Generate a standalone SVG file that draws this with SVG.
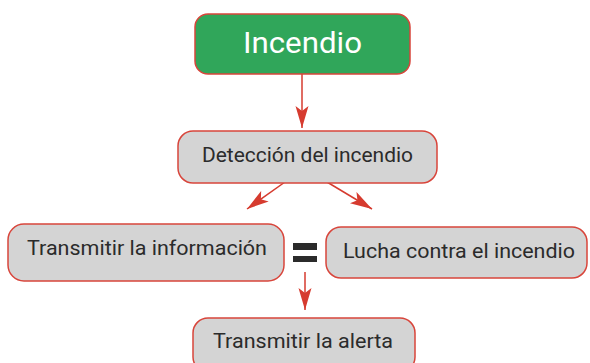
<svg xmlns="http://www.w3.org/2000/svg" width="590" height="363" viewBox="0 0 590 363">
<style>
.box{fill:#d4d4d4;stroke:#d8453b;stroke-width:1.5}
.main{fill:#30a65a;stroke:#d8453b;stroke-width:1.5}
.t{font-family:Roboto,"Liberation Sans",sans-serif;font-size:20.5px;font-weight:400;fill:#2b2b2b;text-anchor:middle}
.tm{font-family:Roboto,"Liberation Sans",sans-serif;font-size:30px;fill:#ffffff;text-anchor:middle}
.c{stroke:#d63b2f;stroke-width:1.5;fill:none}
</style>
<defs>
<marker id="ah" markerUnits="userSpaceOnUse" markerWidth="24" markerHeight="14" refX="22" refY="7" orient="auto">
<path d="M0,0.5 L22,7 L0,13.5 L5,7 Z" fill="#d63b2f"/>
</marker>
</defs>
<rect width="590" height="363" fill="#ffffff"/>
<g id="connectors">
<line class="c" x1="302" y1="74" x2="302" y2="128" marker-end="url(#ah)"/>
<line class="c" x1="285" y1="182" x2="247" y2="209" marker-end="url(#ah)"/>
<line class="c" x1="327" y1="182" x2="372" y2="209" marker-end="url(#ah)"/>
<line class="c" x1="305" y1="272" x2="305" y2="310" marker-end="url(#ah)"/>
</g>
<g id="node-incendio">
<rect class="main" x="195" y="14" width="215" height="60" rx="13"/>
<text class="tm" x="302.5" y="53" textLength="119" lengthAdjust="spacingAndGlyphs">Incendio</text>
</g>
<g id="node-deteccion">
<rect class="box" x="178" y="131" width="259" height="52" rx="15"/>
<text class="t" x="307.5" y="162" textLength="211" lengthAdjust="spacingAndGlyphs">Detección del incendio</text>
</g>
<g id="node-transmitir-info">
<rect class="box" x="8" y="224" width="276" height="57" rx="16"/>
<text class="t" x="147" y="255" textLength="240" lengthAdjust="spacingAndGlyphs">Transmitir la información</text>
</g>
<g id="equals">
<rect x="293" y="243" width="24" height="7" fill="#2b2b2b"/>
<rect x="293" y="256" width="24" height="6" fill="#2b2b2b"/>
</g>
<g id="node-lucha">
<rect class="box" x="326" y="227" width="261" height="51" rx="15"/>
<text class="t" x="459" y="258" textLength="232" lengthAdjust="spacingAndGlyphs">Lucha contra el incendio</text>
</g>
<g id="node-alerta">
<rect class="box" x="193" y="318" width="222" height="54" rx="15"/>
<text class="t" x="303" y="348" textLength="180" lengthAdjust="spacingAndGlyphs">Transmitir la alerta</text>
</g>
</svg>
